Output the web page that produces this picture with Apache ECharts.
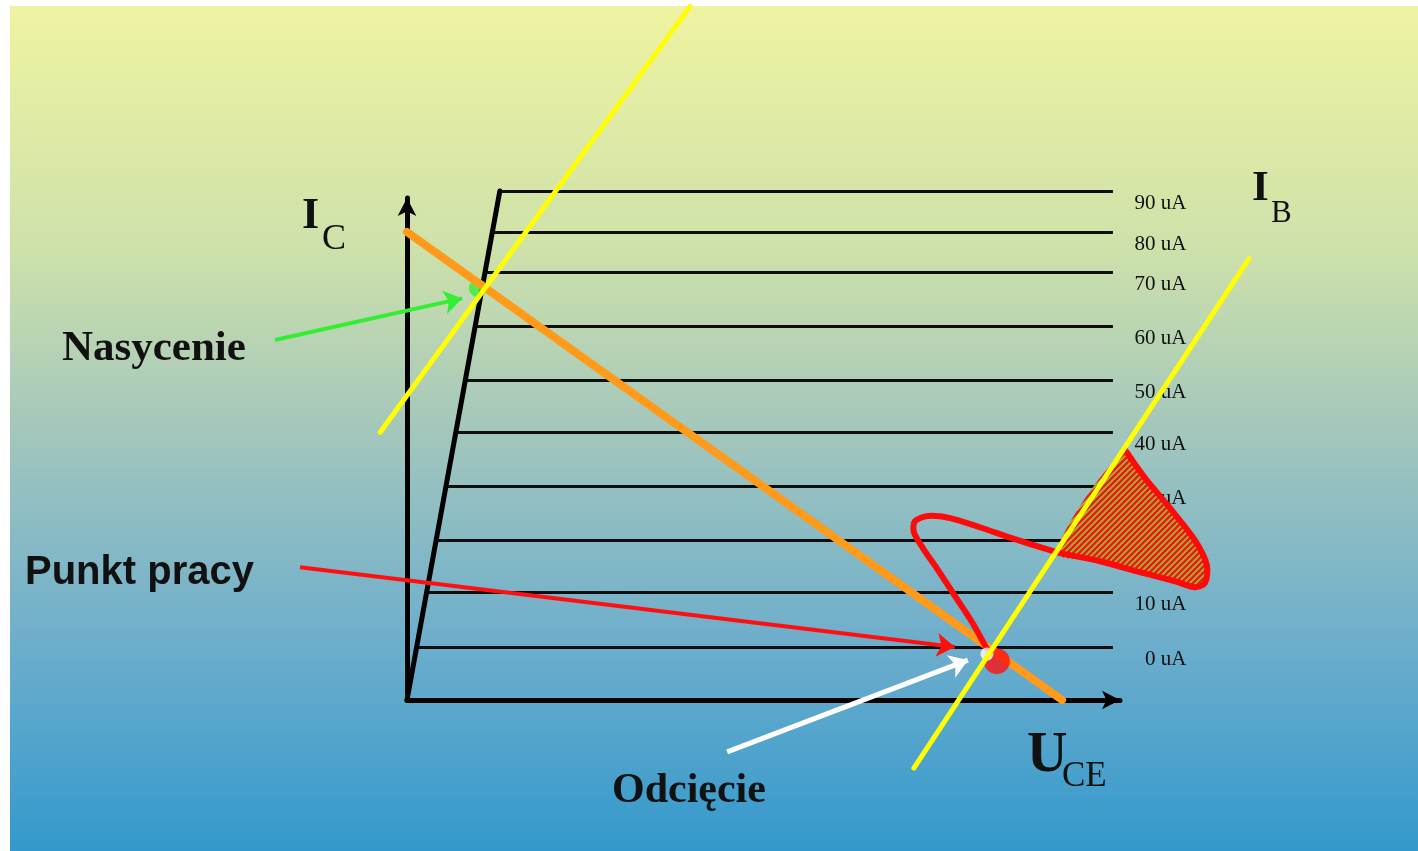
<!DOCTYPE html>
<html>
<head>
<meta charset="utf-8">
<script src="https://cdn.jsdelivr.net/npm/echarts@6/dist/echarts.min.js"></script>
<style>
html,body{margin:0;padding:0;background:#fff;}
#c{width:1418px;height:851px;}
</style>
</head>
<body>
<div id="c"></div>
<script>
// ---- data (U_CE in V, I_C in mA) ----
const ibLabels = ['0 uA','10 uA','20 uA','30 uA','40 uA','50 uA','60 uA','70 uA','80 uA','90 uA'];
const icLevels = [0.98, 2.0, 2.96, 3.96, 4.96, 5.93, 6.93, 7.93, 8.67, 9.43];
const satKnee = [2.63, 9.43];
const uceEnd = 20;
const loadLine = [[0, 8.67], [18.56, 0]];
const yellowA = [[-0.76, 4.96], [8.02, 12.85]];
const yellowB = [[14.36, -1.26], [23.85, 8.17]];
const qPoint = [16.71, 0.72];
const qGlow = [16.43, 0.85];
const satPoint = [2.01, 7.63];
const arrowGreen = [[-3.74, 6.67], [1.56, 7.44]];
const arrowRed = [[-3.03, 2.46], [15.52, 0.98]];
const arrowWhite = [[9.07, -0.96], [15.89, 0.74]];
const loopCurve = [
  [16.52,0.83],[16.01,1.44],[15.52,1.93],[15.04,2.41],[14.62,2.81],[14.36,3.11],
  [14.39,3.31],[14.76,3.41],[15.38,3.37],[16.23,3.20],[17.22,2.98],[18.41,2.74],
  [19.63,2.57],[20.76,2.37],[21.76,2.20],[22.32,2.09],[22.61,2.17],[22.66,2.50],
  [22.32,2.96],[21.61,3.56],[20.91,4.11],[20.34,4.63]
];
const hatchFrom = 11;

// hatch pattern
const pat = document.createElement('canvas');
pat.width = 6; pat.height = 6;
(function(){
  const g = pat.getContext('2d');
  g.fillStyle = '#a3b03e'; g.fillRect(0,0,6,6);
  g.strokeStyle = '#ee1a10'; g.lineWidth = 2.4;
  g.beginPath();
  g.moveTo(-3,9); g.lineTo(9,-3);
  g.moveTo(-6,6); g.lineTo(6,-6);
  g.moveTo(0,12); g.lineTo(12,0);
  g.stroke();
})();

const chart = echarts.init(document.getElementById('c'), null, {renderer:'canvas'});

const hLines = icLevels.map(function(ic){
  return {coords: [[satKnee[0] * ic / satKnee[1], ic], [uceEnd, ic]]};
});
const labelPts = icLevels.map(function(ic, i){ return {value:[uceEnd, ic], name: ibLabels[i]}; });

const serif = '"Liberation Serif","Times New Roman",serif';
function txt(text, x, y, size, bold, fam){
  return {type:'text', z:100, style:{text:text, x:x, y:y, fill:'#111',
    font:(bold?'bold ':'') + size + 'px ' + (fam||serif), textVerticalAlign:'middle', textAlign:'left'}};
}
function seg(coords, color, width, z){
  return {type:'lines', coordinateSystem:'cartesian2d', z:z, clip:false, silent:true,
    lineStyle:{color:color, width:width, opacity:1, cap:'round'}, data:[{coords:coords}]};
}
function arrow(coords, color, width){
  return {type:'lines', coordinateSystem:'cartesian2d', z:6, clip:false, silent:true,
    symbol:['none','arrow'], symbolSize:18,
    lineStyle:{color:color, width:width, opacity:1}, data:[{coords:coords}]};
}

const option = {
  animation:false,
  backgroundColor:'#ffffff',
  grid:{left:407, right:298, top:198, bottom:151},
  xAxis:{type:'value', min:0, max:20.2, splitLine:{show:false}, axisTick:{show:false}, axisLabel:{show:false},
    axisLine:{show:true, symbol:['none','arrow'], symbolSize:[14,18], lineStyle:{color:'#000', width:5}}},
  yAxis:{type:'value', min:0, max:9.3, splitLine:{show:false}, axisTick:{show:false}, axisLabel:{show:false},
    axisLine:{show:true, symbol:['none','arrow'], symbolSize:[14,18], lineStyle:{color:'#000', width:5}}},
  graphic:[
    {type:'rect', z:-10, silent:true, shape:{x:10, y:6, width:1408, height:845},
      style:{fill:{type:'linear', x:0, y:0, x2:0, y2:1, colorStops:[
        {offset:0, color:'#eff3a1'},{offset:0.28, color:'#cfe2aa'},{offset:0.5, color:'#a4c7bc'},
        {offset:0.75, color:'#6eaecc'},{offset:1, color:'#3399cc'}]}}},
    txt('I', 302, 217, 44, true), txt('C', 322, 240, 36, false),
    txt('I', 1252, 189, 43, true), txt('B', 1271, 214, 31, false),
    txt('U', 1027, 757, 56, true), txt('CE', 1062, 777, 35, false),
    txt('Nasycenie', 62, 349, 43, true),
    txt('Punkt pracy', 25, 573, 40, true, '"Liberation Sans",Arial,sans-serif'),
    txt('Odcięcie', 612, 791, 42, true)
  ],
  series:[
    {type:'lines', coordinateSystem:'cartesian2d', z:2, clip:false, silent:true,
      lineStyle:{color:'#0e0e0e', width:2.8, opacity:1}, data:hLines},
    seg([[0,0], satKnee], '#000', 5, 2),
    {type:'scatter', z:2, clip:false, silent:true, symbolSize:1, itemStyle:{color:'rgba(0,0,0,0)'},
      label:{show:true, position:[74,13], align:'right', verticalAlign:'middle',
        formatter:function(p){return p.name;}, fontFamily:serif, fontSize:21, color:'#111', opacity:1},
      labelLayout:{hideOverlap:false},
      data:labelPts},
    {type:'scatter', z:3, clip:false, silent:true, symbolSize:18, itemStyle:{color:'#33ee33'}, data:[satPoint]},
    seg(loadLine, '#ff9a1a', 8, 4),
    {type:'custom', z:5, clip:false, silent:true, data:[0],
      renderItem:function(params, api){
        const pts = loopCurve.slice(hatchFrom).map(function(p){ return api.coord(p); });
        const all = loopCurve.map(function(p){ return api.coord(p); });
        return {type:'group', children:[
          {type:'polygon', shape:{points:pts, smooth:0.3},
            style:{fill:{image:pat, repeat:'repeat'}, stroke:null}},
          {type:'polyline', shape:{points:all, smooth:0.3},
            style:{fill:null, stroke:'#ff0a0a', lineWidth:6, lineJoin:'round', lineCap:'round'}}
        ]};
      }},
    {type:'scatter', z:6, clip:false, silent:true, symbolSize:26, itemStyle:{color:'#ff1010'}, data:[qPoint]},
    {type:'scatter', z:6, clip:false, silent:true, symbolSize:13, itemStyle:{color:'#ffffff'}, data:[qGlow]},
    arrow(arrowGreen, '#33ee33', 4),
    arrow(arrowRed, '#ff1010', 4),
    arrow(arrowWhite, '#ffffff', 5),
    seg(yellowA, '#ffff00', 5, 7),
    seg(yellowB, '#ffff00', 5, 7)
  ]
};
chart.setOption(option);
</script>
</body>
</html>
